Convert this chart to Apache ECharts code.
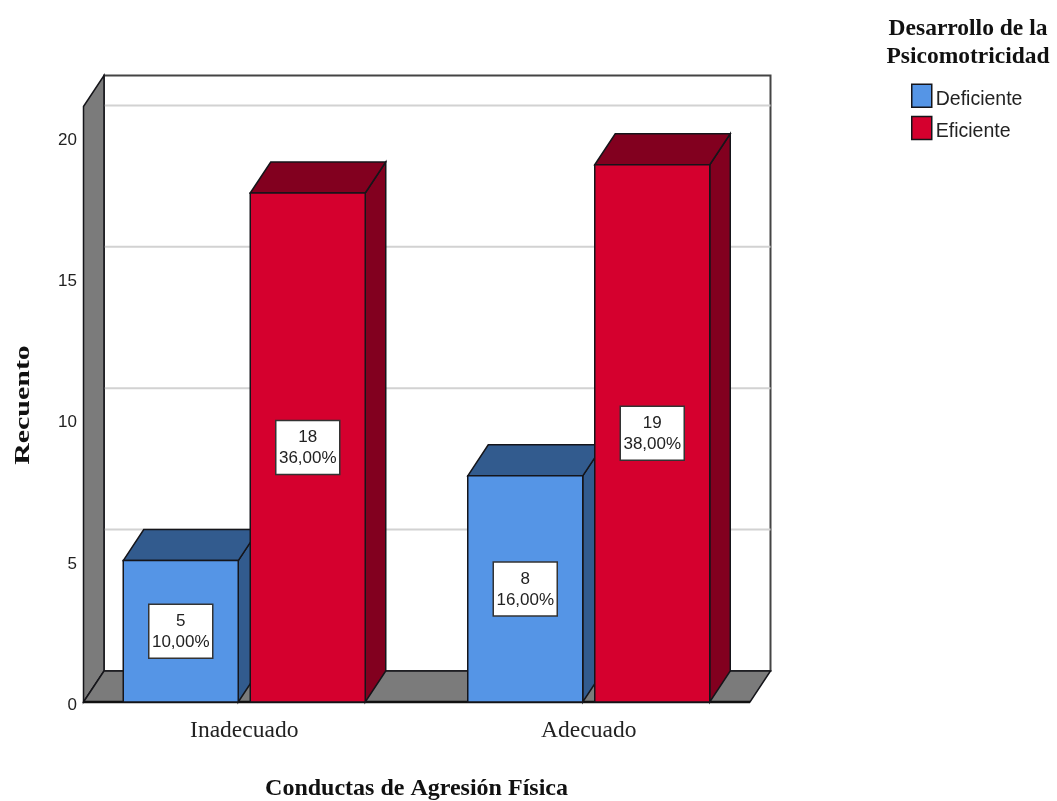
<!DOCTYPE html>
<html><head><meta charset="utf-8">
<style>html,body{margin:0;padding:0;background:#fff}#c{width:1057px;height:801px}</style>
<script src="https://cdn.jsdelivr.net/npm/echarts@6/dist/echarts.min.js"></script>
</head><body><div id="c"></div>
<script>
const categories = ['Inadecuado', 'Adecuado'];
const deficienteCounts = [5, 8];
const eficienteCounts = [18, 19];
const deficientePct = [10, 16];
const eficientePct = [36, 38];
const yTicks = [5, 10, 15, 20];
const yMax = 21.06;

const DX = 20.5, DY = -31, BAR_W = 115, GAP = 6;
const INK = '#15151a';
function poly(points, fill, lw) {
  return {type:'polygon', shape:{points}, style:{fill, stroke:INK, lineWidth:lw===undefined?1.5:lw}};
}
function renderBar(side, front, dark) {
  return function (params, api) {
    const c = api.coord([api.value(0), api.value(1)]);
    const base = api.coord([api.value(0), 0]);
    const x0 = side < 0 ? c[0] - GAP - BAR_W : c[0] + GAP;
    const x1 = x0 + BAR_W, yt = c[1], yb = base[1];
    const cx = (x0 + x1) / 2, cy = (yt + yb) / 2;
    return {type:'group', children:[
      poly([[x1,yt],[x1+DX,yt+DY],[x1+DX,yb+DY],[x1,yb]], dark),
      poly([[x0,yt],[x0+DX,yt+DY],[x1+DX,yt+DY],[x1,yt]], dark),
      {type:'rect', shape:{x:x0,y:yt,width:BAR_W,height:yb-yt}, style:{fill:front,stroke:INK,lineWidth:1.5}},
      {type:'rect', shape:{x:cx-32,y:cy-27,width:64,height:54}, style:{fill:'#fff',stroke:'#333',lineWidth:1.5}},
      {type:'text', x:cx, y:cy+0.5, style:{
        text: api.value(1) + '\n' + api.value(2).toFixed(2).replace('.', ',') + '%',
        align:'center', verticalAlign:'middle', fontFamily:'Liberation Sans', fontSize:17, lineHeight:21, fill:'#222'}}
    ]};
  };
}
function renderFrame(params, api) {
  const g = params.coordSys;
  const L = g.x + 11.5, R = g.x + g.width - 11, T = g.y, B = g.y + g.height;
  const kids = [
    {type:'rect', shape:{x:L+DX,y:T+DY,width:R-L,height:B-T}, style:{fill:'#fff',stroke:'#444',lineWidth:2}}
  ];
  yTicks.forEach(v => {
    const y = api.coord([0, v])[1] + DY;
    kids.push({type:'line', shape:{x1:L+DX,y1:y,x2:R+DX,y2:y}, style:{stroke:'#d2d2d2',lineWidth:2}});
  });
  kids.push(poly([[L,T],[L+DX,T+DY],[L+DX,B+DY],[L,B]], '#7b7b7b'));
  kids.push(poly([[L,B],[L+DX,B+DY],[R+DX,B+DY],[R,B]], '#7b7b7b'));
  kids.push({type:'line', shape:{x1:L,y1:B,x2:R,y2:B}, style:{stroke:'#111',lineWidth:2.5}});
  return {type:'group', children:kids};
}
const rows = (vals, pct) => vals.map((v, i) => [i, v, pct[i]]);
const chart = echarts.init(document.getElementById('c'), null, {renderer:'canvas'});
chart.setOption({
  animation:false,
  backgroundColor:'#fff',
  title:{text:'Desarrollo de la\nPsicomotricidad', left:963, top:10, textAlign:'center',
    textStyle:{fontFamily:'Liberation Serif', fontWeight:'bold', fontSize:23.5, lineHeight:28, color:'#111'}},
  legend:{orient:'vertical', left:911, top:83.5, padding:0, itemWidth:20, itemHeight:23, itemGap:6, icon:'rect',
    data:['Deficiente','Eficiente'],
    formatter:'{a|{name}}',
    textStyle:{rich:{a:{fontFamily:'Liberation Sans', fontSize:19.5, color:'#222', padding:[8,0,0,-1]}}},
    itemStyle:{borderColor:'#15151a', borderWidth:1.5}},
  grid:{left:72, width:689, top:106.5, height:595.5, containLabel:false, outerBoundsMode:'none'},
  graphic:[{type:'text', x:23, y:405, rotation:Math.PI/2, scaleX:1.36, scaleY:1,
    style:{text:'Recuento', align:'center', verticalAlign:'middle', fontFamily:'Liberation Serif', fontWeight:'bold', fontSize:22, fill:'#111'}}],
  xAxis:{type:'category', data:categories, axisLine:{show:false}, axisTick:{show:false},
    axisLabel:{margin:17, fontFamily:'Liberation Serif', fontSize:23.5, color:'#222'},
    name:'Conductas de Agresión Física', nameLocation:'middle', nameGap:75,
    nameTextStyle:{fontFamily:'Liberation Serif', fontWeight:'bold', fontSize:24, color:'#111'}},
  yAxis:{type:'value', min:0, max:yMax, interval:5, splitLine:{show:false}, axisLine:{show:false}, axisTick:{show:false},
    axisLabel:{margin:-5, showMaxLabel:false, verticalAlign:'top', lineHeight:7, fontFamily:'Liberation Sans', fontSize:17, color:'#222'}},
  series:[
    {type:'custom', name:'frame', silent:true, z:1, data:[[0,0]], encode:{x:0,y:1}, renderItem:renderFrame},
    {type:'custom', name:'Deficiente', z:2, itemStyle:{color:'#5595e6'}, encode:{x:0,y:1},
      data:rows(deficienteCounts, deficientePct), renderItem:renderBar(-1,'#5595e6','#325b8e')},
    {type:'custom', name:'Eficiente', z:3, itemStyle:{color:'#d5002e'}, encode:{x:0,y:1},
      data:rows(eficienteCounts, eficientePct), renderItem:renderBar(1,'#d5002e','#82001f')}
  ]
});
</script></body></html>
